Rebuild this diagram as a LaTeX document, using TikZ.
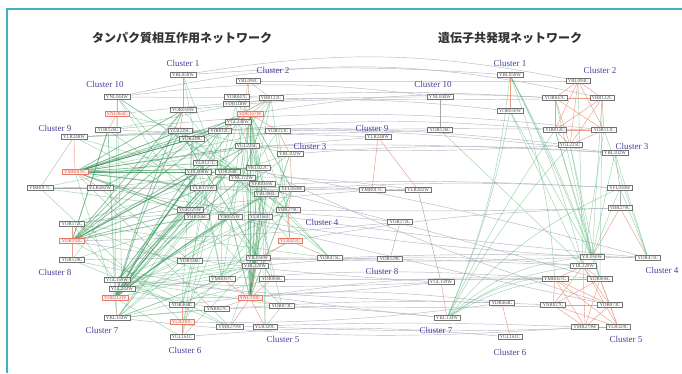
\documentclass[tikz,border=0pt]{standalone}
\usepackage{fontspec}
\setmainfont{Liberation Serif}
\newfontfamily\jpfont{Noto Sans CJK JP}
\definecolor{teal1}{HTML}{3AB5C0}
\definecolor{clus}{HTML}{4A3F9A}
\definecolor{grnA}{HTML}{4CAF6E}
\definecolor{grnB}{HTML}{2E8B4F}
\definecolor{redl}{HTML}{EC9E86}
\definecolor{redt}{HTML}{E05A45}
\definecolor{crossc}{HTML}{B8B8C6}
\pgfdeclarelayer{bg}
\pgfdeclarelayer{edges}
\pgfsetlayers{bg,edges,main}
\tikzset{
  gene/.style={draw=black!55, line width=0.3pt, fill=white, fill opacity=0.75, text opacity=1,
    inner xsep=2pt, inner ysep=0.8pt, font=\fontsize{4.9}{4.9}\selectfont, text=black!70},
  redgene/.style={gene, draw=redt!80, text=redt, fill=red!8},
  clus/.style={font=\fontsize{9}{9}\selectfont, text=clus},
  ttl/.style={font=\jpfont\bfseries\fontsize{12}{12}\selectfont, text=black!80},
  cross/.style={draw=crossc, line width=0.45pt},
  grn/.style={draw=grnA, line width=0.5pt, opacity=0.5},
  grnk/.style={draw=grnB, line width=0.8pt, opacity=0.5},
  redl/.style={draw=redl, line width=0.45pt},
  grayl/.style={draw=black!35, line width=0.4pt}
}
\begin{document}
\begin{tikzpicture}[x=1pt,y=-1pt]
\useasboundingbox (0,0) rectangle (682,373);
\begin{pgfonlayer}{bg}
\fill[white] (0,0) rectangle (682,373);
\end{pgfonlayer}
\draw[teal1, line width=1.6pt] (7,373) -- (7,9) -- (682,9);

\node[ttl] (t1) at (182,38) {タンパク質相互作用ネットワーク};
\node[ttl] (t2) at (510,38) {遺伝子共発現ネットワーク};

% cluster labels
\foreach \nm/\t/\x/\y in {
  lc1/Cluster 1/183/63, lc2/Cluster 2/273/70, lc10/Cluster 10/105/84, lc9/Cluster 9/55/128,
  lc3/Cluster 3/310/146, lc4/Cluster 4/322/222, lc8/Cluster 8/55/272, lc7/Cluster 7/102/330,
  lc6/Cluster 6/185/350, lc5/Cluster 5/283/339,
  rc1/Cluster 1/510/63, rc2/Cluster 2/600/70, rc10/Cluster 10/433/84, rc9/Cluster 9/372/128,
  rc3/Cluster 3/632/146, rc4/Cluster 4/662/270, rc8/Cluster 8/382/271, rc7/Cluster 7/436/330,
  rc6/Cluster 6/510/352, rc5/Cluster 5/626/339}
  \node[clus] (\nm) at (\x,\y) {\t};

% shared genes
\foreach \id/\t/\lx/\ly/\rx/\ry [count=\n] in {
  a/YBL050W/183/75/510/75, b/YBL094C/248/81/578/81, c/YNL044W/117/97/440/97,
  d/YOR047C/237/97/555/98, e/YBR122C/271/98/602/98, f/YOR050W/183/110/510/111,
  g/YLR248W/74/137/378/137, h/YOR126C/108/130/440/130, i/YIR012C/220/131/555/130,
  j/YOR113C/278/131/604/130, k/YGL225C/247/146/570/145, l/YBL102W/290/154/615/153,
  m/YMR017C/40/188/372/190, n/YLR282W/100/188/418/190, o/YFL050W/292/189/620/188,
  p/YBR279C/288/210/620/208, q/YOR172C/72/224/400/222, r/YDR475C/330/258/648/258,
  s/YJL050W/258/258/592/257, t/YDL220W/255/266/583/266, u/YOR129C/72/260/390/259,
  v/YGL159W/117/280/441/282, w/YMR057C/222/279/555/279, x/YDR006C/272/279/600/279,
  y/YDR464C/182/305/502/303, z/YNR027C/217/309/553/305, A/YDR073C/282/306/610/305,
  B/YKL134W/117/318/447/318, C/YMR279W/230/327/585/327, D/YLR329C/265/327/618/327,
  E/YGL161C/182/337/510/337} {
  \node[gene, alias=LN\n] (L\id) at (\lx,\ly) {\t};
  \node[gene] (R\id) at (\rx,\ry) {\t};
}
% left red hubs
\foreach \id/\t/\x/\y [count=\n from 32] in {
  r1/YNL064C/117/114, r2/YDR167W/250/114, r3/YMR019C/75/172, r4/YDR192C/72/241,
  r5/YLR423C/290/241, r6/YDR212W/115/298, r7/YNL330C/250/298, r8/YLR310C/182/322}
  \node[redgene, alias=LN\n] (L\id) at (\x,\y) {\t};
% left extra genes
\foreach \id/\t/\x/\y [count=\n from 40] in {
  x1/YDR118W/236/104, x2/YGL240W/238/122, x3/YLR229C/180/131, x4/YOR249C/192/139,
  x5/YLR127C/205/163, x6/YDL008W/198/172, x7/YDR260C/228/172, x8/YKL022C/258/168,
  x9/YNL172W/242/178, x10/YFR036W/262/184, x11/YLR371W/203/188, x12/YBL084C/266/194,
  x13/YGR225W/190/210, x14/YHR166C/197/217, x15/YIR025W/230/217, x16/YLR166C/260/217,
  x17/YDR146C/190/261, x18/YGL233W/122/289}
  \node[gene, alias=LN\n] (L\id) at (\x,\y) {\t};

\begin{pgfonlayer}{edges}
% cross-network gray links
\foreach \id [count=\n] in {a,b,c,d,e,f,g,h,i,j,k,l,m,n,o,p,q,r,s,t,u,v,w,x,y,z,A,B,C,D,E} {
  \pgfmathtruncatemacro\ang{mod(\n*7,11)-3}
  \draw[cross] (L\id) to[bend left=\ang] (R\id);
}
\foreach \u/\v/\ang in {r1/c/3, r2/d/6, r3/g/2, r4/q/-2, r5/p/4, r6/v/-3, r7/w/5, r8/y/-4,
  a/b/10, c/e/12, h/j/6, g/l/5, x3/k/4, x11/o/3, x13/s/-3, x17/t/2, m/n/1, B/C/-5,
  x5/r/3, u/B/-3, q/m/2, v/y/-2, x8/A/-4, n/r/-2, x6/x/1, r4/v/-3, k/l/2, x15/A/-1}
  \draw[cross] (L\u) to[bend left=\ang] (R\v);

% left network: random green mesh
\pgfmathsetseed{4242}
\foreach \k in {1,...,110} {
  \pgfmathtruncatemacro\a{random(1,57)}
  \pgfmathtruncatemacro\b{random(1,57)}
  \ifnum\a=\b\else\draw[grn] (LN\a) -- (LN\b);\fi
}
% left hubs
\foreach \t in {x3,x4,f,i,x5,x6,x8,k,x11,x13,x2,r2,x7}
  \draw[grnk] (Lr3) -- (L\t);
\foreach \t in {x3,x5,x6,x11,x13,x14,f,h,x4,k,i}
  \draw[grnk] (Lr4) -- (L\t);
\foreach \t in {x3,x6,x11,x13,x15,f,i,x9,k,x12,x5}
  \draw[grnk] (Lr6) to[bend left=4] (L\t);
\foreach \t in {s,t,x16,x10,x12,x8,k,r2,x15,o}
  \draw[grnk] (Lr7) -- (L\t);
\foreach \t in {s,t,x8,x9,x10,x12,x16,w,x,k,p,o}
  \draw[grn] (Lr2) -- (L\t);
\foreach \t in {x13,x14,x17,w,z,t,x15}
  \draw[grn] (LB) -- (L\t);
\foreach \t in {x11,x13,x6,s,t,x16}
  \draw[grn] (Lv) -- (L\t);
\foreach \t in {x15,x16,s,w,x12}
  \draw[grn] (Lx18) -- (L\t);
% left red edges
\foreach \u/\v in {c/r1, r1/h, a/f, f/x3, g/r3, r3/n, q/r4, r4/u, v/x18, x18/r6, r6/B, y/r8, r8/E,
  r2/b, r2/d, r2/e, r2/x1, r2/i, r2/j, r2/k, r7/t, r7/w, r7/x, r7/z, r7/A, r7/C, r7/D,
  r5/p, r5/r, r5/s, l/o, o/p, p/r5, j/l}
  \draw[redl] (L\u) -- (L\v);
\draw[grayl] (Lm) -- (Ln);
\draw[grayl] (Lg) -- (Lm);

% right network
\foreach \u/\v in {b/d,b/e,b/i,b/j,b/k,d/e,d/i,d/j,d/k,e/i,e/j,e/k,i/j,i/k,j/k,
  t/w,t/x,t/z,t/A,t/C,t/D,w/x,w/z,w/A,w/C,w/D,x/z,x/A,x/C,x/D,z/A,z/C,z/D,A/C,A/D,C/D,
  p/s,p/r,s/r,g/m,g/n,a/f,y/E,v/B}
  \draw[redl] (R\u) -- (R\v);
\foreach \u/\v in {c/h, q/u, n/v, o/p, l/o, m/n}
  \draw[grayl] (R\u) -- (R\v);
\foreach \t/\ang in {s/4, t/6, w/8, x/3}
  \draw[grn] (Ra) to[bend left=\ang] (R\t);
\foreach \t/\ang in {a/8, f/6, s/-18, t/-14, x/-20, w/-10, k/-6, i/-4, o/-12}
  \draw[grn] (RB) to[bend right=\ang] (R\t);
\foreach \u/\v in {f/s, f/t, d/s, i/s, k/s, j/t, e/x, b/t, l/r, o/r, j/r, k/x, i/x, l/s, o/s, e/s, h/t}
  \draw[grn] (R\u) -- (R\v);
\end{pgfonlayer}
\end{tikzpicture}
\end{document}
